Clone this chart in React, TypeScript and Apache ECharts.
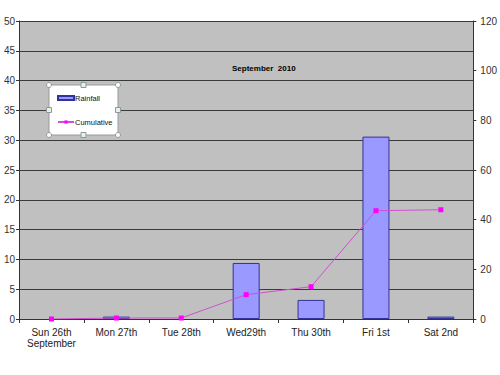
import React, { useEffect, useRef } from "react";
import * as echarts from "echarts";

const categories = ["Sun 26th\nSeptember", "Mon 27th", "Tue 28th", "Wed29th", "Thu 30th", "Fri 1st", "Sat 2nd"];
const rainfall = [0, 0.4, 0, 9.4, 3.2, 30.6, 0.4];
const cumulative = [0, 0.4, 0.4, 9.8, 13.0, 43.6, 44.0];
const titleText = "September  2010";

export default function App() {
  const ref = useRef<HTMLDivElement>(null);
  useEffect(() => {
    if (!ref.current) return;
    const chart = echarts.init(ref.current, undefined, { renderer: "svg" });
    const font = "'Liberation Sans', Arial, sans-serif";
    const handleStyle = { fill: "#ffffff", stroke: "#8a9a9a", lineWidth: 1 };
    const sqStyle = { fill: "#e8f0e8", stroke: "#8a9a9a", lineWidth: 1 };
    const bx = 49, by = 85, bw = 69, bh = 50;
    chart.setOption({
      animation: false,
      backgroundColor: "#ffffff",
      textStyle: { fontFamily: font },
      title: {
        text: titleText,
        left: 227,
        top: 59,
        textStyle: { fontSize: 8, fontWeight: "bold", color: "#000", fontFamily: font },
      },
      grid: {
        left: 19,
        right: 25,
        top: 21,
        bottom: 56,
        show: true,
        backgroundColor: "#c0c0c0",
        borderWidth: 0,
      },
      legend: {
        orient: "vertical",
        left: 52,
        top: 89,
        itemGap: 16,
        itemWidth: 16,
        itemHeight: 4,
        textStyle: { fontSize: 7.5, color: "#111", fontFamily: font, padding: [0, 0, 0, -4] },
        data: [
          { name: "Rainfall", icon: "rect" },
          { name: "Cumulative" },
        ],
        z: 10,
      },
      graphic: [
        {
          type: "rect",
          shape: { x: bx, y: by, width: bw, height: bh },
          style: { fill: "#ffffff", stroke: "#9a9a9a", lineWidth: 1 },
          z: 5,
        },
        ...[
          [bx, by], [bx + bw, by], [bx, by + bh], [bx + bw, by + bh],
        ].map(([x, y]) => ({ type: "circle", shape: { cx: x, cy: y, r: 2.5 }, style: handleStyle, z: 6 })),
        ...[
          [bx + bw / 2, by], [bx + bw / 2, by + bh], [bx, by + bh / 2], [bx + bw, by + bh / 2],
        ].map(([x, y]) => ({ type: "rect", shape: { x: x - 2.5, y: y - 2.5, width: 5, height: 5 }, style: sqStyle, z: 6 })),
      ],
      xAxis: {
        type: "category",
        data: categories,
        boundaryGap: true,
        axisLine: { lineStyle: { color: "#333", width: 1 } },
        axisTick: { show: true, length: 4, lineStyle: { color: "#333" } },
        axisLabel: { fontSize: 10, color: "#222", lineHeight: 11, margin: 8, fontFamily: font, interval: 0 },
      },
      yAxis: [
        {
          type: "value",
          min: 0,
          max: 50,
          interval: 5,
          axisLine: { show: true, lineStyle: { color: "#333" } },
          axisTick: { show: true, length: 3, lineStyle: { color: "#333" } },
          axisLabel: { fontSize: 10, color: "#333", margin: 4, fontFamily: font },
          splitLine: { show: true, lineStyle: { color: "#3a3a3a", width: 1 } },
        },
        {
          type: "value",
          min: 0,
          max: 120,
          interval: 20,
          position: "right",
          axisLine: { show: true, lineStyle: { color: "#333" } },
          axisTick: { show: true, length: 3, lineStyle: { color: "#333" } },
          axisLabel: { fontSize: 10, color: "#333", margin: 7, fontFamily: font },
          splitLine: { show: false },
        },
      ],
      series: [
        {
          name: "Rainfall",
          type: "bar",
          data: rainfall.map((v) => (v === 0 ? null : v)),
          barWidth: 27,
          itemStyle: { color: "#9999ff", borderColor: "#333399", borderWidth: 1 },
          yAxisIndex: 0,
        },
        {
          name: "Cumulative",
          type: "line",
          data: cumulative,
          yAxisIndex: 1,
          symbol: "rect",
          symbolSize: 5,
          lineStyle: { color: "#d050d0", width: 1 },
          itemStyle: { color: "#ff00ff" },
        },
      ],
    });
    return () => chart.dispose();
  }, []);
  return <div ref={ref} style={{ position: "absolute", left: 0, top: 0, width: 500, height: 375 }} />;
}
